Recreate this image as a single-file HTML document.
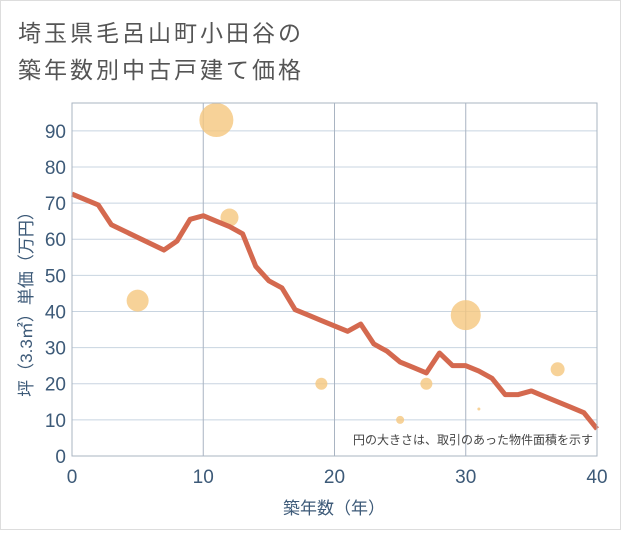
<!DOCTYPE html>
<html><head><meta charset="utf-8"><style>
body{margin:0;background:#fff;font-family:"Liberation Sans","Noto Sans CJK JP",sans-serif}
</style></head><body>
<svg width="621" height="530" xmlns="http://www.w3.org/2000/svg">
<rect x="0.5" y="0.5" width="620" height="529" fill="#fff" stroke="#ddd"/>
<text x="18" y="41" font-size="23" letter-spacing="3" fill="#555">埼玉県毛呂山町小田谷の</text>
<text x="18" y="78" font-size="23" letter-spacing="3" fill="#555">築年数別中古戸建て価格</text>
<g id="grid"></g>
<g id="ticks"></g>
<g id="bubbles"></g>
<g id="line"></g>
<rect x="72" y="103" width="525" height="353" fill="none" stroke="#a9b4c2"/>
<text x="593" y="444" font-size="12" fill="#444" text-anchor="end">円の大きさは、取引のあった物件面積を示す</text>
<text x="334" y="514" font-size="17" fill="#3d5a78" text-anchor="middle">築年数（年）</text>
<text transform="translate(32,300) rotate(-90)" font-size="17" fill="#3d5a78" text-anchor="middle">坪（3.3㎡）単価（万円）</text>
</svg>
<script>
const xTicks=[0,10,20,30,40];
const yTicks=[0,10,20,30,40,50,60,70,80,90];
const lineYears=[0,2,3,7,8,9,10,11,12,13,14,15,16,17,18,19,20,21,22,23,24,25,26,27,28,29,30,31,32,33,34,35,36,37,38,39,40];
const linePrices=[72.5,69.5,64,57,59.5,65.5,66.5,65,63.5,61.5,52.5,48.5,46.5,40.5,39,37.5,36,34.5,36.5,31,29,26,24.5,23,28.5,25,25,23.5,21.5,17,17,18,16.5,15,13.5,12,7.5];
const bubbleYears=[5,11,12,19,25,27,30,31,37];
const bubblePrices=[43,93,66,20,10,20,39,13,24];
const bubbleSizes=[11,17,9,6,4,6,15,1.5,7];
const NS="http://www.w3.org/2000/svg";
const X0=72,X1=597,Y0=456,Y1=103,YMAX=97.7;
const sx=v=>X0+(X1-X0)*v/40;
const sy=v=>Y0-(Y0-Y1)*v/YMAX;
function mk(tag,attrs,parent){const e=document.createElementNS(NS,tag);for(const k in attrs)e.setAttribute(k,attrs[k]);parent.appendChild(e);return e;}
const grid=document.getElementById('grid'),ticks=document.getElementById('ticks');
yTicks.forEach(v=>{
 const l=mk('line',{x1:X0,x2:X1,y1:sy(v),y2:sy(v),stroke:'#c8d4e0'},grid);
 
 
 const t=mk('text',{x:66,y:sy(v)+7,'font-size':19,fill:'#3d5a78','text-anchor':'end'},ticks);
 t.textContent=v;
 
 
});
xTicks.forEach(v=>{
 const l=mk('line',{x1:sx(v),x2:sx(v),y1:Y1,y2:Y0,stroke:'#a9b4c2'},grid);
 
 
 const t=mk('text',{x:sx(v),y:483,'font-size':19,fill:'#3d5a78','text-anchor':'middle'},ticks);
 t.textContent=v;
 
 
});
const bg=document.getElementById('bubbles');
bubbleYears.forEach((y,i)=>{
 const c=mk('circle',{cx:sx(y),cy:sy(bubblePrices[i]),r:bubbleSizes[i],fill:'#f5c77e','fill-opacity':0.8},bg);
 
 
});
const pts=lineYears.map((y,i)=>sx(y)+','+sy(linePrices[i])).join(' ');
const pl=mk('polyline',{points:pts,fill:'none',stroke:'#d4694f','stroke-width':5,'stroke-linejoin':'round'},document.getElementById('line'));


</script>
</body></html>
